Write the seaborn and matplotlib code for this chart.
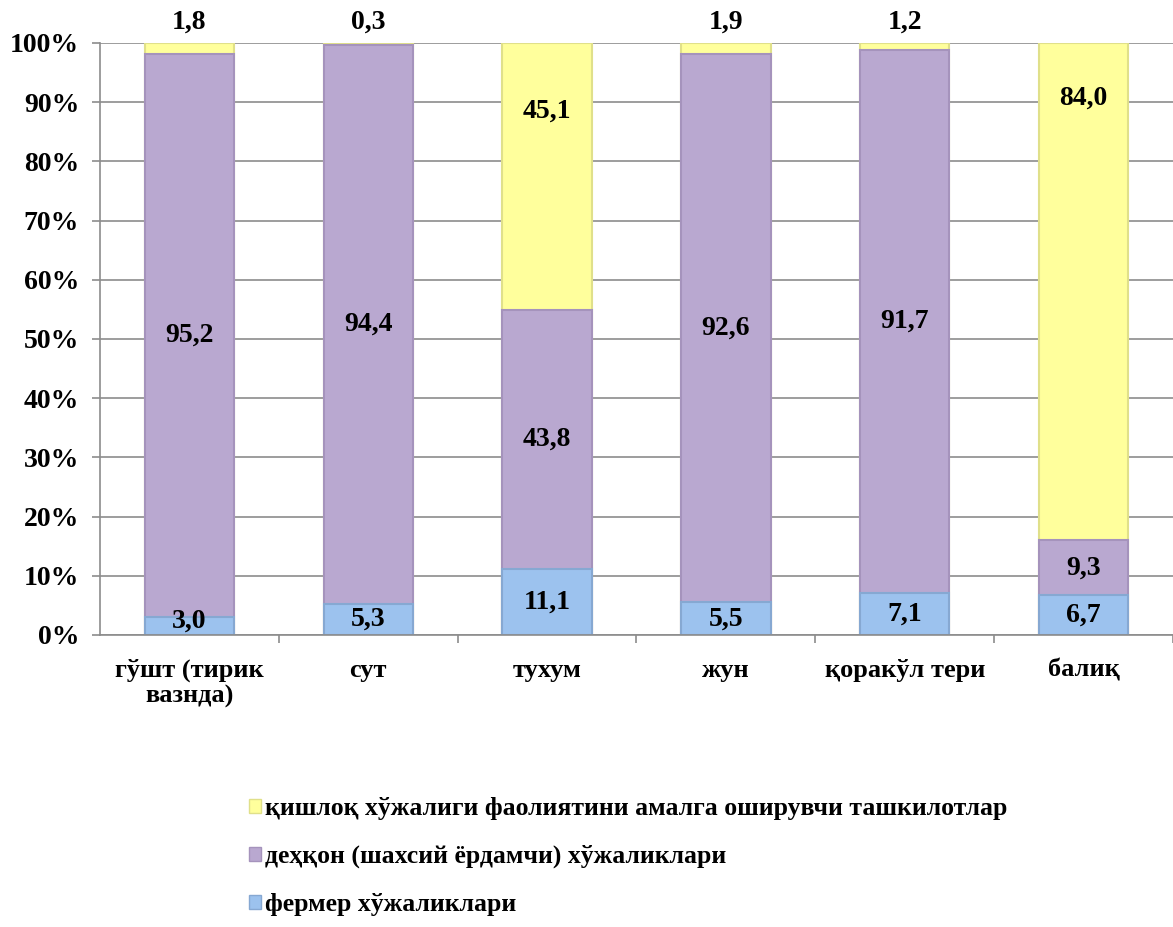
import matplotlib
matplotlib.use('Agg')
import matplotlib.pyplot as plt
import matplotlib.patches as mpatches
import pandas as pd
import seaborn as sns

# categories and shares (%) for each type of farm
categories = ['гўшт (тирик\nвазнда)', 'сут', 'тухум', 'жун', 'қоракўл тери', 'балиқ']
fermer = [3.0, 5.3, 11.1, 5.5, 7.1, 6.7]
dehqon = [95.2, 94.4, 43.8, 92.6, 91.7, 9.3]
tashkilot = [1.8, 0.3, 45.1, 1.9, 1.2, 84.0]

series_names = ['фермер хўжаликлари',
                'деҳқон (шахсий ёрдамчи) хўжаликлари',
                'қишлоқ хўжалиги фаолиятини амалга оширувчи ташкилотлар']
colors = ['#9CC2EE', '#B9A8D0', '#FFFF9C']
edges = ['#86A8D2', '#A593BC', '#E0E08A']

sns.set_style('white')
plt.rcParams['font.family'] = ['Liberation Serif', 'DejaVu Serif']
plt.rcParams['font.weight'] = 'bold'
plt.rcParams['text.color'] = 'black'

df = pd.DataFrame({'cat': categories, 'f': fermer, 'd': dehqon, 't': tashkilot})
df['fd'] = df['f'] + df['d']
df['fdt'] = df['fd'] + df['t']

fig = plt.figure(figsize=(11.73, 9.27), dpi=100)
ax = fig.add_axes([100 / 1173, 292 / 927, 1073 / 1173, 592 / 927])

# grid first
ax.set_ylim(0, 100)
ax.set_yticks(range(0, 101, 10))
ax.yaxis.grid(True, color='#8C8C8C', linewidth=1.2)
ax.set_axisbelow(True)

# stacked bars by overlaying cumulative totals
for col, c, e in zip(['fdt', 'fd', 'f'], colors[::-1], edges[::-1]):
    sns.barplot(data=df, x='cat', y=col, color=c, width=0.5, ax=ax,
                edgecolor=e, linewidth=1.5, saturation=1, errorbar=None)

ax.set_xlim(-0.5, -0.5 + 1073 / 180)
ax.set_xlabel('')
ax.set_ylabel('')
ax.set_yticklabels([f'{v}%' for v in range(0, 101, 10)])

fs = 20
def fmt(v):
    return f'{v:.1f}'.replace('.', ',')

# labels
for i in range(len(categories)):
    ax.text(i, max(fermer[i] / 2, 2.4), fmt(fermer[i]),
            ha='center', va='center', fontsize=fs, fontweight='bold')
    ax.text(i, fermer[i] + dehqon[i] / 2, fmt(dehqon[i]),
            ha='center', va='center', fontsize=fs, fontweight='bold')
    if tashkilot[i] < 5:
        ax.text(i, 103.6, fmt(tashkilot[i]),
                ha='center', va='center', fontsize=fs, fontweight='bold')
    elif tashkilot[i] > 60:
        ax.text(i, 90.7, fmt(tashkilot[i]),
                ha='center', va='center', fontsize=fs, fontweight='bold')
    else:
        ax.text(i, 88.5, fmt(tashkilot[i]),
                ha='center', va='center', fontsize=fs, fontweight='bold')

# spines and ticks
for s in ['top', 'right']:
    ax.spines[s].set_visible(False)
ax.spines['left'].set_color('#8C8C8C')
ax.spines['bottom'].set_color('#8C8C8C')
ax.spines['left'].set_linewidth(1.2)
ax.spines['bottom'].set_linewidth(1.2)
ax.tick_params(axis='y', length=6, width=1.2, color='#8C8C8C', pad=9,
               labelsize=20, left=True, labelcolor='black')
ax.tick_params(axis='x', which='major', length=0, pad=17, labelsize=19, labelcolor='black')
ax.set_xticks([i + 0.5 for i in range(len(categories))], minor=True)
ax.tick_params(axis='x', which='minor', length=6, width=1.2, color='#8C8C8C', bottom=True)
for lab in ax.get_xticklabels() + ax.get_yticklabels():
    lab.set_fontweight('bold')
for lab in ax.get_xticklabels():
    lab.set_verticalalignment('top')
    lab.set_linespacing(1.15)

handles = [mpatches.Patch(facecolor=colors[k], edgecolor=edges[k], label=series_names[k])
           for k in [2, 1, 0]]
fig.legend(handles=handles, loc='upper left', bbox_to_anchor=(226 / 1173, 1 - 774 / 927),
           frameon=False, prop={'family': 'Liberation Serif', 'weight': 'bold', 'size': 18.5},
           handlelength=0.45, handleheight=0.45, handletextpad=0.15, labelspacing=0.96)

fig.savefig('out.png', dpi=100)
